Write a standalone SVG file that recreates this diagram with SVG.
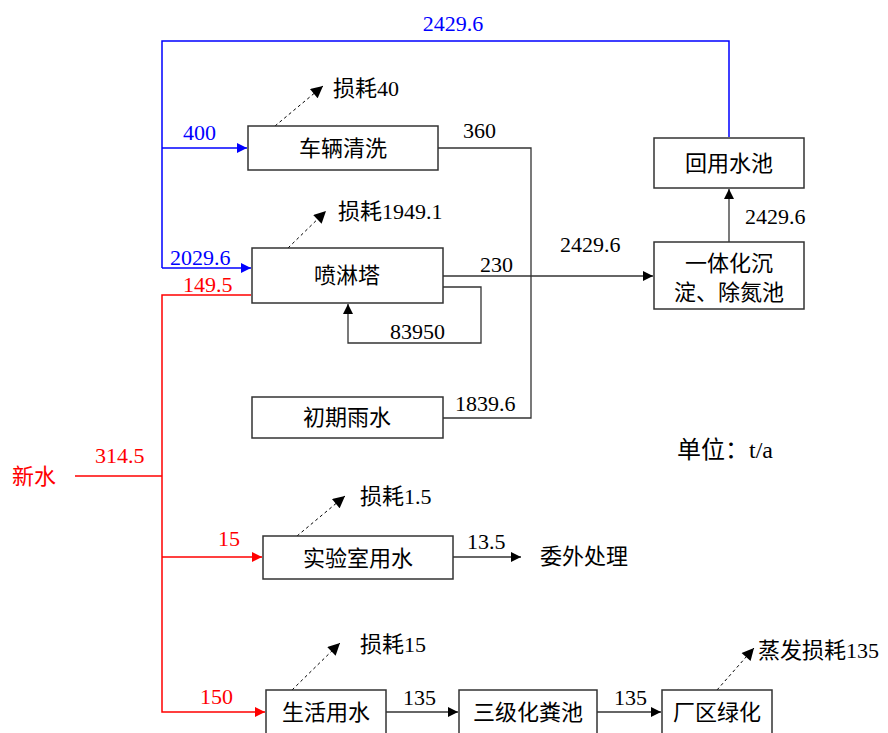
<svg xmlns="http://www.w3.org/2000/svg" width="888" height="733" viewBox="0 0 888 733">
<style>
.box{fill:#fff;stroke:#333;stroke-width:1.5}
.t{font-family:"Liberation Serif","Noto Sans CJK SC",serif;font-size:22px;fill:#000}
.c{text-anchor:middle}
.blue{fill:#0000ff}
.red{fill:#ff0000}
.ln{fill:none;stroke:#333;stroke-width:1.3}
.lb{fill:none;stroke:#0000ff;stroke-width:1.5}
.lr{fill:none;stroke:#ff0000;stroke-width:1.5}
.ld{fill:none;stroke:#000;stroke-width:1;stroke-dasharray:3,3}
</style>
<defs>
<marker id="ak" viewBox="0 0 10 10" refX="10" refY="5" markerWidth="14" markerHeight="10" markerUnits="userSpaceOnUse" orient="auto"><path d="M0,0 L10,5 L0,10 z" fill="#000"/></marker>
<marker id="ab" viewBox="0 0 10 10" refX="10" refY="5" markerWidth="15" markerHeight="10" markerUnits="userSpaceOnUse" orient="auto"><path d="M0,0 L10,5 L0,10 z" fill="#0000ff"/></marker>
<marker id="ar" viewBox="0 0 10 10" refX="10" refY="5" markerWidth="15" markerHeight="10" markerUnits="userSpaceOnUse" orient="auto"><path d="M0,0 L10,5 L0,10 z" fill="#ff0000"/></marker>
<marker id="ad" viewBox="0 0 10 10" refX="10" refY="5" markerWidth="15" markerHeight="12" markerUnits="userSpaceOnUse" orient="auto"><path d="M0,0 L10,5 L0,10 z" fill="#000"/></marker>
</defs>
<rect width="888" height="733" fill="#fff"/>
<g id="connectors">
<path class="lb" d="M729,137 V41 H162 V268"/>
<path class="lb" d="M162,148 H247" marker-end="url(#ab)"/>
<path class="lb" d="M162,268 H251" marker-end="url(#ab)"/>
<path class="lr" d="M75,476 H162"/>
<path class="lr" d="M251,295 H162 V712 H265" marker-end="url(#ar)"/>
<path class="lr" d="M162,557 H262" marker-end="url(#ar)"/>
<path class="ln" d="M438,148 H531 V418 H443"/>
<path class="ln" d="M443,276 H653" marker-end="url(#ak)"/>
<path class="ln" d="M443,287 H481 V343 H348 V304" marker-end="url(#ak)"/>
<path class="ln" d="M729,242 V189" marker-end="url(#ak)"/>
<path class="ln" d="M453,557 H521" marker-end="url(#ak)"/>
<path class="ln" d="M386,712 H458" marker-end="url(#ak)"/>
<path class="ln" d="M597,712 H661" marker-end="url(#ak)"/>
<path class="ld" d="M275,126 L323,86" marker-end="url(#ad)"/>
<path class="ld" d="M288,248 L326,211" marker-end="url(#ad)"/>
<path class="ld" d="M297,536 L345,496" marker-end="url(#ad)"/>
<path class="ld" d="M292,690 L340,643" marker-end="url(#ad)"/>
<path class="ld" d="M717,690 L754,648" marker-end="url(#ad)"/>
</g>
<g id="n-clean"><rect class="box" x="248" y="126" width="190" height="44"/><text class="t c" x="343" y="156">车辆清洗</text></g>
<g id="n-spray"><rect class="box" x="252" y="248" width="191" height="55"/><text class="t c" x="347" y="283">喷淋塔</text></g>
<g id="n-rain"><rect class="box" x="252" y="397" width="191" height="41"/><text class="t c" x="347" y="425">初期雨水</text></g>
<g id="n-reuse"><rect class="box" x="654" y="138" width="150" height="50"/><text class="t c" x="729" y="171">回用水池</text></g>
<g id="n-integ"><rect class="box" x="654" y="242" width="150" height="67"/><text class="t c" x="729" y="271">一体化沉</text><text class="t c" x="729" y="300">淀、除氮池</text></g>
<g id="n-lab"><rect class="box" x="263" y="536" width="190" height="43"/><text class="t c" x="358" y="566">实验室用水</text></g>
<g id="n-life"><rect class="box" x="266" y="690" width="120" height="50"/><text class="t c" x="326" y="720">生活用水</text></g>
<g id="n-septic"><rect class="box" x="459" y="690" width="138" height="50"/><text class="t c" x="528" y="720">三级化粪池</text></g>
<g id="n-green"><rect class="box" x="662" y="690" width="110" height="50"/><text class="t c" x="717" y="720">厂区绿化</text></g>
<g id="n-fresh"><text class="t red" x="12" y="484">新水</text></g>
<g id="n-out"><text class="t" x="540" y="564">委外处理</text></g>
<g id="labels">
<text class="t blue c" x="453" y="31">2429.6</text>
<text class="t blue" x="183" y="140">400</text>
<text class="t blue" x="170" y="265">2029.6</text>
<text class="t red" x="183" y="292">149.5</text>
<text class="t red" x="95" y="463">314.5</text>
<text class="t red" x="218" y="546">15</text>
<text class="t red" x="200" y="704">150</text>
<text class="t" x="333" y="96">损耗40</text>
<text class="t" x="338" y="219">损耗1949.1</text>
<text class="t" x="360" y="504">损耗1.5</text>
<text class="t" x="360" y="652">损耗15</text>
<text class="t" x="758" y="658">蒸发损耗135</text>
<text class="t" x="463" y="138">360</text>
<text class="t" x="480" y="272">230</text>
<text class="t" x="560" y="252">2429.6</text>
<text class="t" x="745" y="224">2429.6</text>
<text class="t" x="390" y="339">83950</text>
<text class="t" x="455" y="411">1839.6</text>
<text class="t" x="467" y="549">13.5</text>
<text class="t" x="403" y="705">135</text>
<text class="t" x="614" y="705">135</text>
<text class="t" x="677" y="458" style="font-size:24px">单位：t/a</text>
</g>
</svg>
